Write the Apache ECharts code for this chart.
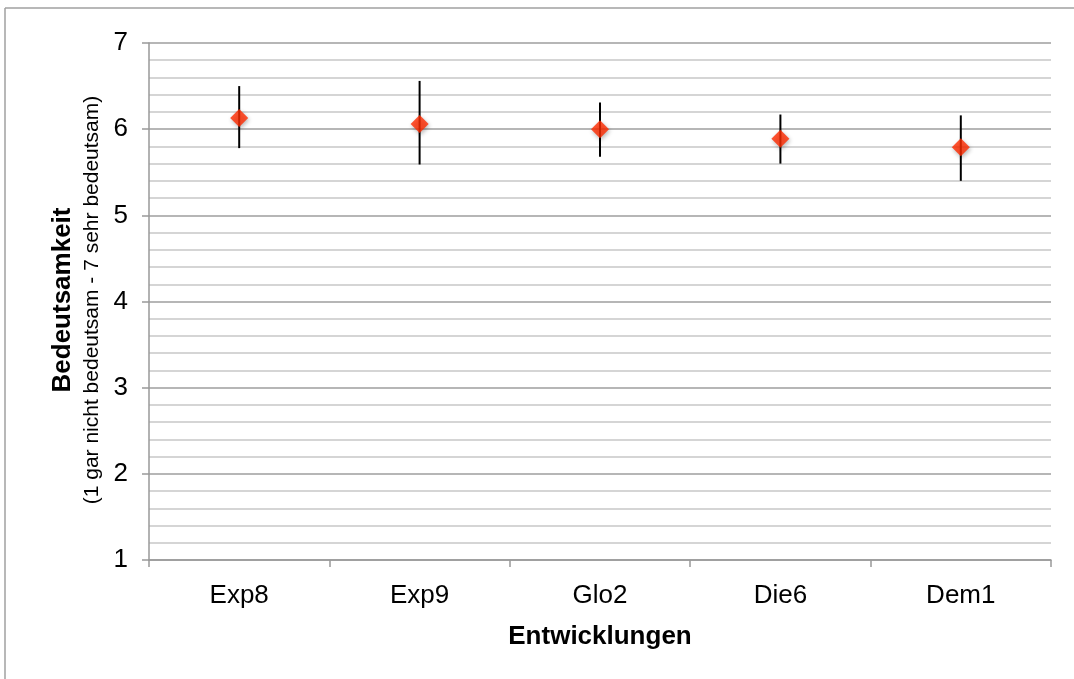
<!DOCTYPE html>
<html>
<head>
<meta charset="utf-8">
<script src="https://cdn.jsdelivr.net/npm/echarts@6/dist/echarts.min.js"></script>
<style>html,body{margin:0;padding:0;background:#fff;}#c{width:1074px;height:679px;}</style>
</head>
<body>
<div id="c"></div>
<script>
var categories = ['Exp8', 'Exp9', 'Glo2', 'Die6', 'Dem1'];
var means = [6.13, 6.06, 6.00, 5.89, 5.79];
var upper = [6.50, 6.56, 6.31, 6.17, 6.16];
var lower = [5.78, 5.59, 5.68, 5.60, 5.40];
var yTicks = [1, 2, 3, 4, 5, 6, 7];

var chart = echarts.init(document.getElementById('c'), null, {renderer: 'canvas'});
var font = '"Liberation Sans", Arial, sans-serif';
var errData = categories.map(function (c, i) { return [i, lower[i], upper[i]]; });

chart.setOption({
  animation: false,
  backgroundColor: '#fff',
  grid: {left: 149, top: 43, right: 23, bottom: 119, containLabel: false},
  xAxis: {
    type: 'category',
    data: categories,
    boundaryGap: true,
    axisLine: {show: true, lineStyle: {color: '#999', width: 1.5}},
    axisTick: {show: true, length: 7, lineStyle: {color: '#999', width: 1.5}, interval: 0},
    axisLabel: {fontFamily: font, fontSize: 26, color: '#000', margin: 23},
    splitLine: {show: false},
    name: 'Entwicklungen',
    nameLocation: 'middle',
    nameGap: 64,
    nameTextStyle: {fontFamily: font, fontSize: 26, fontWeight: 'bold', color: '#000'}
  },
  yAxis: {
    type: 'value',
    min: yTicks[0],
    max: yTicks[yTicks.length - 1],
    interval: 1,
    axisLine: {show: true, lineStyle: {color: '#999', width: 1.5}},
    axisTick: {show: true, inside: false, length: 7, lineStyle: {color: '#999', width: 1.5}},
    axisLabel: {fontFamily: font, fontSize: 26, color: '#000', margin: 21},
    splitLine: {show: true, lineStyle: {color: '#9e9e9e', width: 1.5}},
    minorTick: {show: false, splitNumber: 5},
    minorSplitLine: {show: true, lineStyle: {color: '#c8c8c8', width: 1.5}}
  },
  graphic: [
    {type: 'line', shape: {x1: 5, y1: 8, x2: 1074, y2: 8}, style: {stroke: '#a0a0a0', lineWidth: 1.5}, silent: true},
    {type: 'line', shape: {x1: 5, y1: 8, x2: 5, y2: 679}, style: {stroke: '#a0a0a0', lineWidth: 1.5}, silent: true},
    {type: 'text', x: 63, y: 300, rotation: Math.PI / 2,
      style: {text: 'Bedeutsamkeit', fontFamily: font, fontSize: 26, fontWeight: 'bold', fill: '#000', align: 'center', verticalAlign: 'middle'}},
    {type: 'text', x: 92, y: 300, rotation: Math.PI / 2,
      style: {text: '(1 gar nicht bedeutsam - 7 sehr bedeutsam)', fontFamily: font, fontSize: 21, fill: '#000', align: 'center', verticalAlign: 'middle'}}
  ],
  series: [
    {
      type: 'custom',
      data: errData,
      z: 3,
      renderItem: function (params, api) {
        var lo = api.coord([api.value(0), api.value(1)]);
        var hi = api.coord([api.value(0), api.value(2)]);
        return {type: 'line', shape: {x1: lo[0], y1: lo[1], x2: hi[0], y2: hi[1]}, style: {stroke: '#000', lineWidth: 2}};
      }
    },
    {
      type: 'scatter',
      data: means,
      z: 5,
      symbol: 'diamond',
      symbolSize: [18, 18],
      itemStyle: {color: '#ff2a00', shadowColor: 'rgba(0,0,0,0.35)', shadowBlur: 4, shadowOffsetX: 1, shadowOffsetY: 2}
    }
  ]
});
</script>
</body>
</html>
